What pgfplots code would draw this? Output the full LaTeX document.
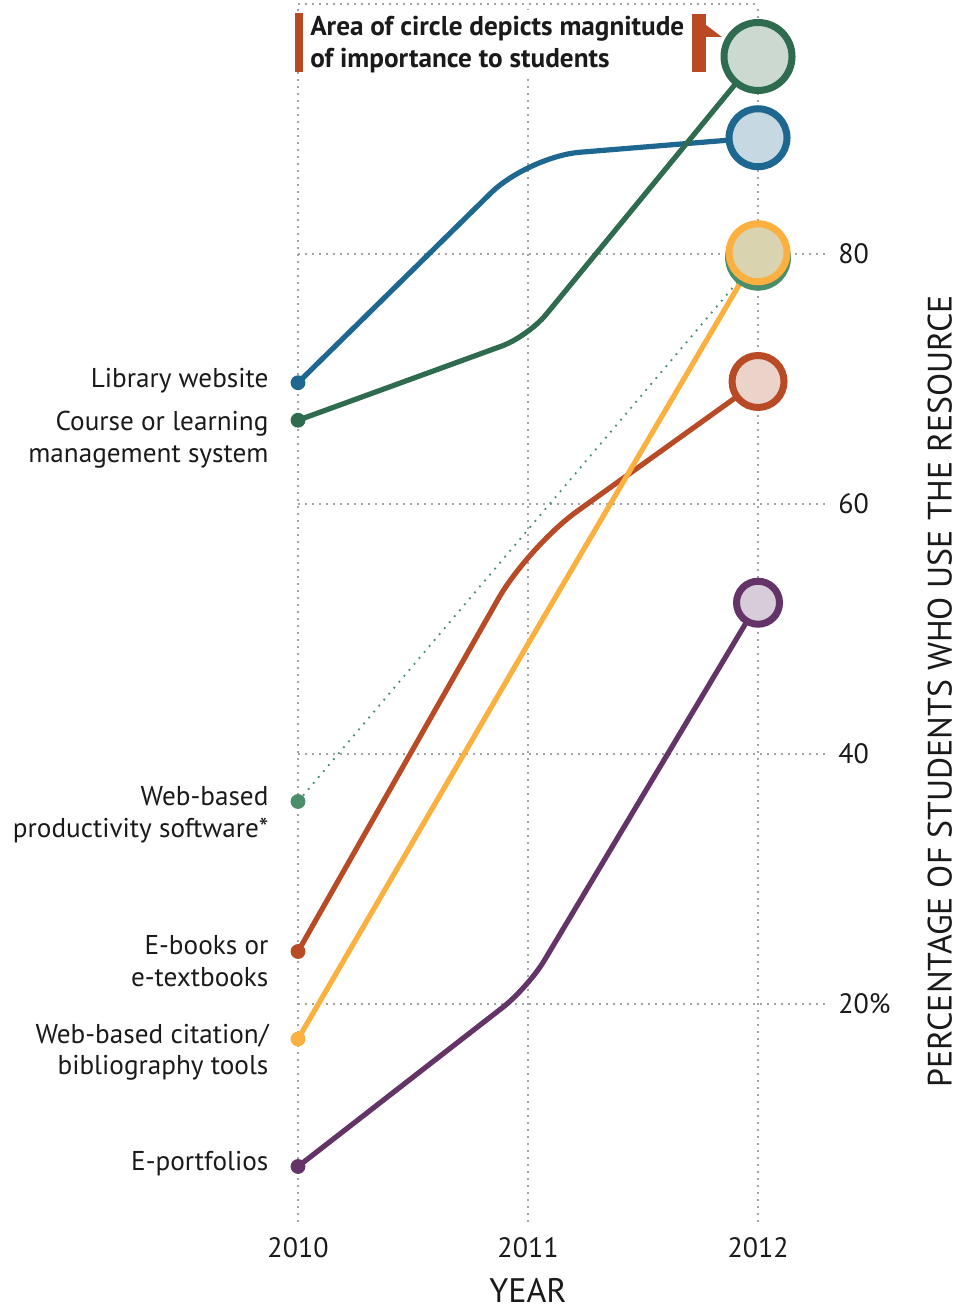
\documentclass[border=0pt]{standalone}
\usepackage{fontspec}
\setmainfont{PT Sans}
\usepackage{pgfplots}
\pgfplotsset{compat=1.18}
\definecolor{txt}{HTML}{1A1A1A}
\definecolor{gridc}{HTML}{A3A3A3}
\definecolor{bluL}{HTML}{1E6791}
\definecolor{bluF}{HTML}{C6D9E3}
\definecolor{grnL}{HTML}{2F6B4F}
\definecolor{grnF}{HTML}{CBD9D0}
\definecolor{prdL}{HTML}{4A8E6B}
\definecolor{prdF}{HTML}{CFDDD2}
\definecolor{yelL}{HTML}{FBB03F}
\definecolor{yelF}{HTML}{D9D3B0}
\definecolor{redL}{HTML}{B94A26}
\definecolor{redF}{HTML}{EBD3C9}
\definecolor{purL}{HTML}{643468}
\definecolor{purF}{HTML}{D8CBDA}
\definecolor{barR}{HTML}{B94A26}
\begin{document}
\begin{tikzpicture}[every node/.style={text=txt}]
\begin{axis}[
  scale only axis, width=266pt, height=609pt,
  xmin=2010, xmax=2012.313, ymin=2.56, ymax=100,
  clip=false,
  axis line style={draw=none}, tick style={draw=none},
  xtick={2010,2011,2012}, xticklabels={2010,2011,2012},
  ytick={20,40,60,80}, yticklabels={20\%,40,60,80},
  yticklabel pos=right,
  xmajorgrids, ymajorgrids,
  grid style={gridc, line width=0.8pt, dash pattern=on 0.9pt off 2.6pt},
  x tick label style={font=\fontsize{14}{16}\selectfont, yshift=-3pt},
  y tick label style={font=\fontsize{14}{16}\selectfont, anchor=west, xshift=-0.5pt},
  line width=2.6pt,
]
% top dotted border
\draw[gridc, line width=0.8pt, dash pattern=on 0.9pt off 2.6pt] (axis cs:2010,100) -- (axis cs:2012,100);

% Web-based productivity software (dotted)
\addplot[prdL, line width=0.9pt, dash pattern=on 0.9pt off 3pt, forget plot] coordinates {(2010,36.2) (2012,79.7)};
% E-portfolios
\addplot[purL, rounded corners=16pt, forget plot] coordinates {(2010,7.0) (2011,21.3) (2012,52.1)};
% E-books
\addplot[redL, rounded corners=30pt, forget plot] coordinates {(2010,24.2) (2011,56.6) (2012,69.8)};
% Citation tools
\addplot[yelL, forget plot] coordinates {(2010,17.2) (2011,48.8) (2012,80.1)};
% Library website
\addplot[bluL, rounded corners=26pt, forget plot] coordinates {(2010,69.7) (2011,87.8) (2012,89.3)};
% Course / LMS
\addplot[grnL, rounded corners=14pt, forget plot] coordinates {(2010,66.7) (2011,73.4) (2012,95.8)};

% start dots (2010)
\addplot[bluL, only marks, mark=*, mark size=3.3pt, mark options={line width=0.8pt, fill=bluL, draw=bluL}] coordinates {(2010,69.7)};
\addplot[grnL, only marks, mark=*, mark size=3.3pt, mark options={line width=0.8pt, fill=grnL, draw=grnL}] coordinates {(2010,66.7)};
\addplot[prdL, only marks, mark=*, mark size=3.3pt, mark options={line width=0.8pt, fill=prdL, draw=prdL}] coordinates {(2010,36.2)};
\addplot[redL, only marks, mark=*, mark size=3.3pt, mark options={line width=0.8pt, fill=redL, draw=redL}] coordinates {(2010,24.2)};
\addplot[yelL, only marks, mark=*, mark size=3.3pt, mark options={line width=0.8pt, fill=yelL, draw=yelL}] coordinates {(2010,17.2)};
\addplot[purL, only marks, mark=*, mark size=3.3pt, mark options={line width=0.8pt, fill=purL, draw=purL}] coordinates {(2010,7.0)};

% end circles (2012): area = importance
\addplot[grnL, only marks, mark=*, mark size=17pt, mark options={draw=grnL, fill=grnF, line width=3.5pt}] coordinates {(2012,95.8)};
\addplot[bluL, only marks, mark=*, mark size=14.5pt, mark options={draw=bluL, fill=bluF, line width=3.5pt}] coordinates {(2012,89.3)};
\addplot[prdL, only marks, mark=*, mark size=14.7pt, mark options={draw=prdL, fill=prdF, line width=3.5pt}] coordinates {(2012,79.7)};
\addplot[yelL, only marks, mark=*, mark size=14.5pt, mark options={draw=yelL, fill=yelF, line width=3.5pt}] coordinates {(2012,80.1)};
\addplot[redL, only marks, mark=*, mark size=13pt, mark options={draw=redL, fill=redF, line width=3.5pt}] coordinates {(2012,69.8)};
\addplot[purL, only marks, mark=*, mark size=10.75pt, mark options={draw=purL, fill=purF, line width=3.5pt}] coordinates {(2012,52.1)};

% series labels (anchor = baseline of last line)
\begin{scope}[every node/.style={text=txt, anchor=base east, align=right, inner sep=0pt, font=\fontsize{13.6}{16}\selectfont}]
\node at (axis cs:2009.8826,69.28) {Library website};
\node at (axis cs:2009.8826,63.28) {Course or learning\\management system};
\node at (axis cs:2009.8826,33.28) {Web-based\\productivity software*};
\node at (axis cs:2009.8826,21.36) {E-books or\\e-textbooks};
\node at (axis cs:2009.8826,14.32) {Web-based citation/\\bibliography tools};
\node at (axis cs:2009.8826,6.72) {E-portfolios};
\end{scope}

% annotation
\fill[barR] (axis cs:2009.989,99.28) rectangle (axis cs:2010.0217,94.56);
\fill[barR] (axis cs:2011.711,99.2) rectangle (axis cs:2011.774,94.56);
\fill[barR] (axis cs:2011.774,98.32) -- (axis cs:2011.843,97.36) -- (axis cs:2011.774,97.36) -- cycle;
\node[anchor=base west, align=left, fill=white, inner xsep=0pt, inner ysep=3pt,
      font=\bfseries\fontsize{13.6}{16}\selectfont] at (axis cs:2010.042,94.92)
      {Area of circle depicts magnitude\\of importance to students};

% axis titles
\node[rotate=90, anchor=center, font=\fontsize{16.9}{19}\selectfont] at (axis cs:2012.79,45.04)
      {PERCENTAGE OF STUDENTS WHO USE THE RESOURCE};
\node[anchor=base, inner sep=0pt, font=\fontsize{17}{19}\selectfont] at (axis cs:2011,-3.84) {YEAR};

\coordinate (BL) at (axis cs:2008.7043,-4.24);
\coordinate (TR) at (axis cs:2012.8696,100.32);
\end{axis}
\pgfresetboundingbox
\useasboundingbox (BL) rectangle (TR);
\end{tikzpicture}
\end{document}
